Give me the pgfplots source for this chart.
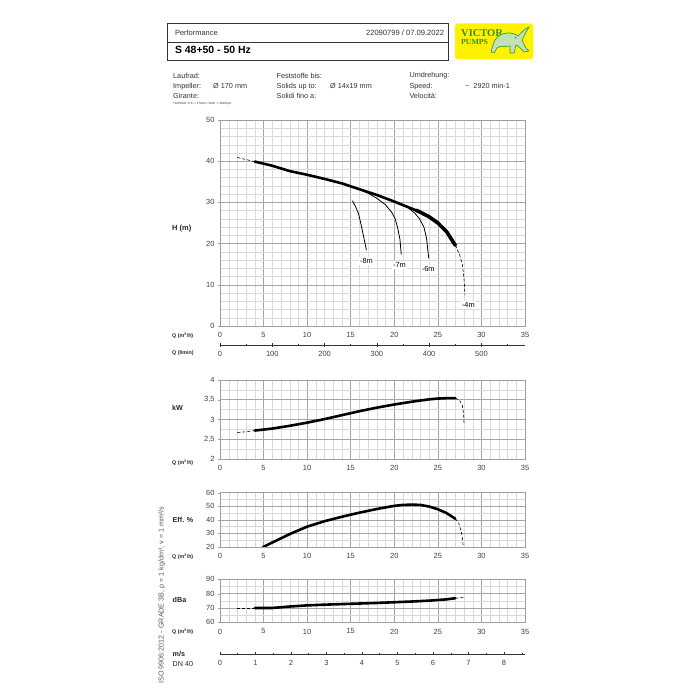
\documentclass[border=0pt]{standalone}
\usepackage{pgfplots}
\pgfplotsset{compat=1.18}
\usepackage{fontspec}
\setmainfont{Liberation Sans}
\newfontfamily\logofont{Liberation Serif}
\definecolor{logoyellow}{HTML}{FFF200}
\definecolor{logogreen}{HTML}{2F8F3A}
\definecolor{lightgreen}{HTML}{BFE3B4}
\begin{document}
\begin{tikzpicture}[x=1bp,y=1bp]
\path[fill=white] (0,0) rectangle (700,700);
\coordinate (PH) at (220,374);
\coordinate (PL) at (220,355);
\coordinate (PK) at (220,241);
\coordinate (PE) at (220,153);
\coordinate (PD) at (220,77.7);
\coordinate (PM) at (220,46);
\pgfplotsset{
  pc/.style={scale only axis, width=305bp, xmin=0, xmax=35, xtick distance=5, minor x tick num=4,
    grid=both, major grid style={gray!70, line width=0.5bp}, minor grid style={gray!30, line width=0.35bp},
    axis line style={gray!75, line width=0.5bp}, tick style={gray!75}, major tick length=2bp, minor tick length=0pt,
    tick align=outside, xtick pos=bottom, ytick pos=left, xtick style={draw=none},
    ticklabel style={font=\fontsize{7.5}{8}\selectfont, text=black!75},
    /pgf/number format/assume math mode=true, anchor=origin,
    xticklabel style={yshift=-1bp}},
  thick curve/.style={black, line width=2.6bp, line cap=round, line join=round},
  thin curve/.style={black, line width=0.8bp},
  dash curve/.style={black, line width=0.6bp, densely dashed},
  sc/.style={scale only axis, width=305bp, height=1bp, ymin=0, ymax=1, axis x line=bottom, axis y line=none,
    axis line style={-, black!80, line width=0.6bp}, tick style={black!80, line width=0.6bp}, tick align=center,
    major tick length=4bp, minor tick length=2.5bp, ticklabel style={font=\fontsize{7.5}{8}\selectfont, text=black!75},
    /pgf/number format/assume math mode=true, anchor=origin, xticklabel style={yshift=-1bp}}
}
% ---------- header ----------
\draw[black!80, line width=0.8bp] (167.3,640) rectangle (448.7,676.7);
\draw[black!80, line width=0.8bp] (167.3,657.7) -- (448.7,657.7);
\node[anchor=west, font=\fontsize{7.5}{8}\selectfont, text=black!80] at (171.5,667.5) {Performance};
\node[anchor=east, font=\fontsize{7.6}{8}\selectfont, text=black!80] at (447.5,667.5) {22090799 / 07.09.2022};
\node[anchor=west, font=\bfseries\fontsize{10.5}{12}\selectfont] at (171.5,650) {S 48+50 - 50 Hz};
% logo
\fill[logoyellow, rounded corners=3bp] (455,640.7) rectangle (533.3,676.7);
\node[anchor=west, font=\logofont\bfseries\fontsize{10.5}{10}\selectfont, text=logogreen, inner sep=0] at (461,666.5) {VICTOR};
\node[anchor=west, font=\logofont\bfseries\fontsize{7.8}{8}\selectfont, text=logogreen, inner sep=0] at (461,658.3) {PUMPS};
\filldraw[fill=lightgreen, draw=logogreen, line width=0.6bp] (495,660) .. controls (500,668) and (512,669) .. (518,664)
  .. controls (522,668) and (526,672) .. (529,673) .. controls (526,668) and (524,664) .. (522,660)
  .. controls (524,655) and (526,651) .. (529,649) -- (524,648) .. controls (521,651) and (519,654) .. (516,655)
  -- (514,647) -- (510,647) -- (510,654) .. controls (505,653) and (500,655) .. (497,652) -- (494,647) -- (491,648)
  .. controls (492,652) and (493,656) .. (495,660) -- cycle;
\fill[logogreen] (515.5,662.5) circle (0.9);
% info block
\begin{scope}[every node/.style={anchor=west, font=\fontsize{7.3}{8}\selectfont, text=black!80, inner sep=0}]
\node at (173,624.3) {Laufrad:};
\node at (173,613.7) {Impeller:};
\node at (213,613.7) {Ø 170 mm};
\node at (173,604.3) {Girante:};
\node at (276.5,624.3) {Feststoffe bis:};
\node at (276.5,613.7) {Solids up to:};
\node at (330,613.7) {Ø 14x19 mm};
\node at (276.5,604.3) {Solidi fino a:};
\node at (409.3,624.3) {Umdrehung:};
\node at (409.3,613.7) {Speed:};
\node at (465,613.7) {\textasciitilde\ \ 2920 min-1};
\node at (409.3,604.3) {Velocità:};
\node[font=\fontsize{3}{3}\selectfont] at (173,596) {T1606181 170 -> 170mm; 2920 -> 2920rpm};
\end{scope}
% left labels
\begin{scope}[every node/.style={anchor=west, inner sep=0, text=black!85}]
\node[font=\bfseries\fontsize{7.5}{8}\selectfont] at (172,471.7) {H (m)};
\node[font=\bfseries\fontsize{5.3}{6}\selectfont] at (172,364) {Q (m\textsuperscript{3}/h)};
\node[font=\bfseries\fontsize{5.3}{6}\selectfont] at (172,346.7) {Q (l/min)};
\node[font=\bfseries\fontsize{7.2}{8}\selectfont] at (172,291.7) {kW};
\node[font=\bfseries\fontsize{5.3}{6}\selectfont] at (172,237) {Q (m\textsuperscript{3}/h)};
\node[font=\bfseries\fontsize{7.2}{8}\selectfont] at (172.5,180) {Eff. \%};
\node[font=\bfseries\fontsize{5.3}{6}\selectfont] at (172,143) {Q (m\textsuperscript{3}/h)};
\node[font=\bfseries\fontsize{7.2}{8}\selectfont] at (172.5,100) {dBa};
\node[font=\bfseries\fontsize{5.3}{6}\selectfont] at (172,68.3) {Q (m\textsuperscript{3}/h)};
\node[font=\bfseries\fontsize{7.2}{8}\selectfont] at (172.5,46.5) {m/s};
\node[font=\fontsize{7.2}{8}\selectfont] at (172.5,36) {DN 40};
\end{scope}
\node[rotate=90, font=\fontsize{7.2}{8}\selectfont, text=black!65] at (161.7,105) {ISO 9906:2012 - GRADE 3B, ρ = 1 kg/dm³, v = 1 mm²/s};
% ---------- H chart ----------
\begin{axis}[pc, at={(PH)}, height=206bp, ymin=0, ymax=50, ytick distance=10, minor y tick num=4]
\addplot[dash curve] coordinates {(2,40.9) (3,40.4) (4,39.9)};
\addplot[thick curve] coordinates {(4,39.9) (6,38.9) (8,37.6) (10,36.7) (12,35.7) (14,34.6) (16,33.2) (18,31.8) (20,30.2) (22,28.5) (23,27.6) (24,26.5) (25,25.0) (26,22.9) (27,19.6)};
\addplot[black, line width=3.6bp, line cap=round, line join=round] coordinates {(22.5,28.1) (23,27.6) (24,26.5) (25,25.0) (26,22.9) (27,19.6)};
\addplot[dash curve] coordinates {(27,19.6) (27.5,17.3) (27.8,15) (27.95,12.5) (28.05,10) (28.1,7.5)};
\addplot[thin curve] coordinates {(15.2,30.4) (15.6,28.8) (15.9,27.2) (16.2,24.5) (16.45,22) (16.65,20) (16.8,18.4)};
\addplot[thin curve] coordinates {(16,33.2) (17,32.2) (18,31) (19,29.4) (19.7,27.6) (20.1,26) (20.4,23.7) (20.65,21) (20.8,17.4)};
\addplot[thin curve] coordinates {(17.5,32.1) (19,31) (20.5,29.8) (21.5,28.8) (22.3,27.5) (22.9,26) (23.4,24) (23.7,21.3) (23.95,16.4)};
\node[font=\fontsize{7.4}{8}\selectfont, fill=white, inner sep=1bp] at (axis cs:16.8,15.8) {-8m};
\node[font=\fontsize{7.4}{8}\selectfont, fill=white, inner sep=1bp] at (axis cs:20.6,14.8) {-7m};
\node[font=\fontsize{7.4}{8}\selectfont, fill=white, inner sep=1bp] at (axis cs:23.9,13.8) {-6m};
\node[font=\fontsize{7.4}{8}\selectfont, fill=white, inner sep=1bp] at (axis cs:28.5,5.1) {-4m};
\end{axis}
% l/min scale
\begin{axis}[sc, at={(PL)}, xmin=0, xmax=583.33, xtick distance=100, minor x tick num=1, ytick=\empty]
\end{axis}
% ---------- kW chart ----------
\begin{axis}[pc, at={(PK)}, height=79bp, ymin=2, ymax=4, ytick distance=0.5, minor y tick num=1,
  /pgf/number format/use comma, yticklabel style={/pgf/number format/fixed}]
\addplot[dash curve] coordinates {(2,2.67) (3,2.69) (4,2.72)};
\addplot[thick curve] coordinates {(4,2.72) (6,2.77) (8,2.84) (10,2.92) (12,3.01) (14,3.11) (16,3.21) (18,3.30) (20,3.38) (22,3.45) (24,3.51) (25,3.53) (26,3.54) (27,3.54)};
\addplot[dash curve] coordinates {(27,3.54) (27.5,3.48) (27.8,3.36) (27.95,3.15) (28,2.9)};
\end{axis}
% ---------- Eff chart ----------
\begin{axis}[pc, at={(PE)}, height=54.3bp, ymin=20, ymax=60, ytick distance=10, minor y tick num=1]
\addplot[thick curve] coordinates {(4.95,20) (6,23.3) (8,29.5) (10,35) (12,39) (14,42.3) (16,45.3) (18,48) (20,50.3) (21,51) (22,51.2) (23,51) (24,49.8) (25,47.8) (26,45) (27,40.8)};
\addplot[dash curve] coordinates {(27,40.8) (27.4,37.5) (27.7,31) (27.85,25) (27.9,20)};
\end{axis}
% ---------- dBa chart ----------
\begin{axis}[pc, at={(PD)}, height=43bp, ymin=60, ymax=90, ytick distance=10, minor y tick num=1]
\addplot[dash curve] coordinates {(2,70) (4,70)};
\addplot[thick curve] coordinates {(4,70) (6,70) (8,71) (10,71.8) (12,72.3) (15,72.9) (18,73.5) (20,74) (22,74.5) (24,75.1) (26,76) (27,76.8)};
\addplot[dash curve] coordinates {(27,76.8) (28,77.3)};
\end{axis}
% m/s scale
\begin{axis}[sc, at={(PM)}, xmin=0, xmax=8.59, xtick distance=1, minor x tick num=1, ytick=\empty, major tick length=3bp, minor tick length=2bp]
\end{axis}
\end{tikzpicture}
\end{document}
